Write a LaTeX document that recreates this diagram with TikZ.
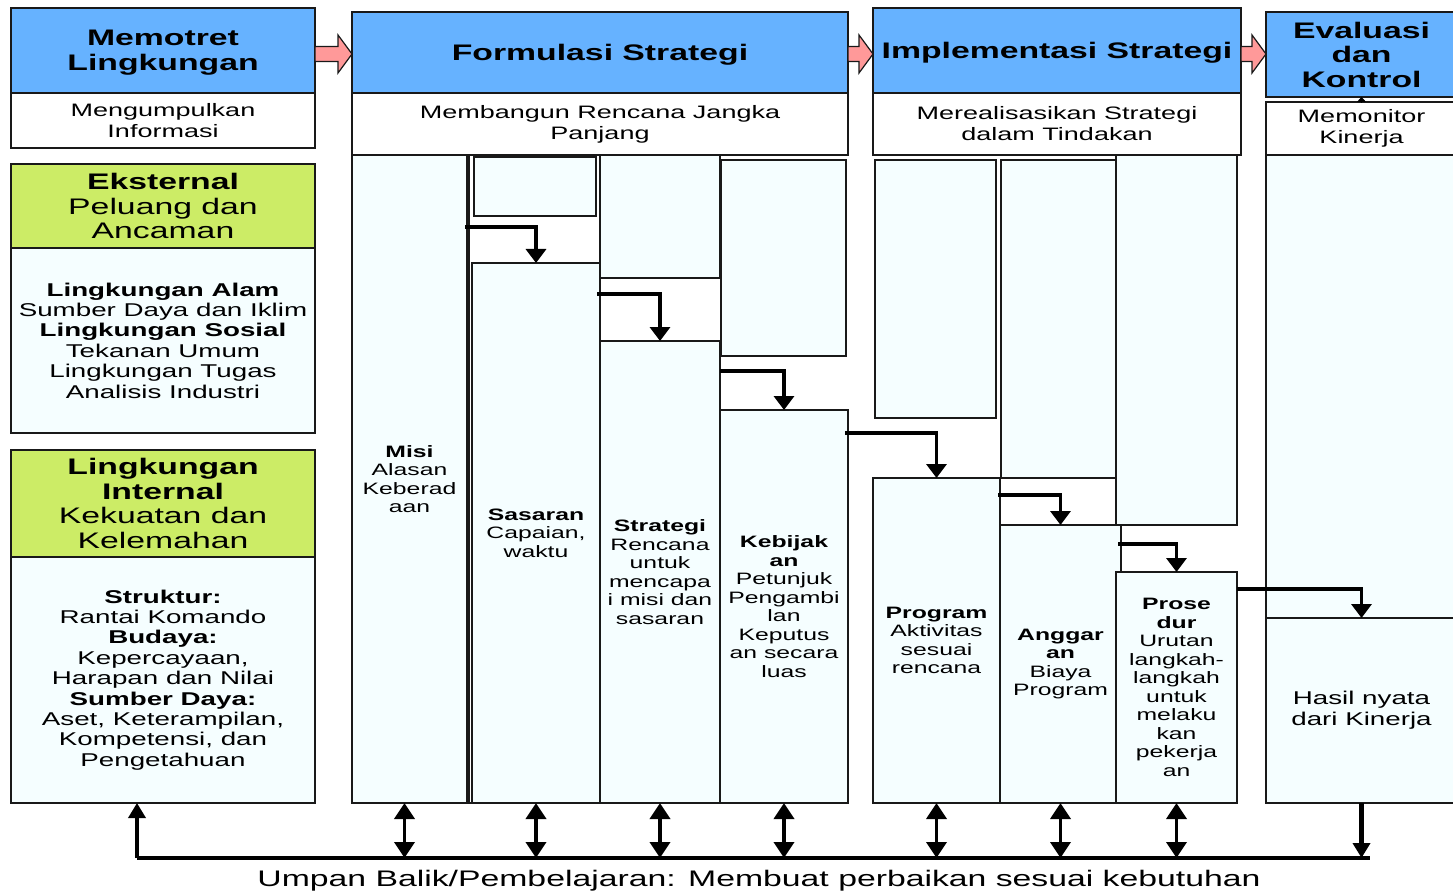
\documentclass[tikz,border=0pt]{standalone}
\usepackage{fontspec}
\setmainfont{Liberation Sans}[FakeStretch=1.5]
\usetikzlibrary{arrows.meta,calc}

\definecolor{hdrblue}{RGB}{102,178,255}
\definecolor{hdrgreen}{RGB}{204,236,102}
\definecolor{cellfill}{RGB}{245,254,255}
\definecolor{arrowpink}{RGB}{255,153,153}
\definecolor{edge}{RGB}{25,25,25}

% box given by its corners: name, x1, y1, x2, y2, style, text
\newcommand\cell[7]{%
  \node[#6, anchor=north west, minimum width={(#4)-(#2)}, minimum height={(#5)-(#3)}] (#1) at (#2,#3) {#7};}

% pink block arrow between two stage headers
\newcommand\stagearrow[2]{%
  \draw[pinkarrow] let \p1=(#1.east |- ay), \p2=(#2.west |- ay) in
    (\x1,{\y1+7.5pt}) -- ({\x2-14pt},{\y1+7.5pt}) -- ({\x2-14pt},{\y1+19pt}) -- (\x2,\y1)
    -- ({\x2-14pt},{\y1-19pt}) -- ({\x2-14pt},{\y1-7.5pt}) -- (\x1,{\y1-7.5pt}) -- cycle;}

\begin{document}
\begin{tikzpicture}[x=1pt,y=-1pt,
  base/.style={draw=edge, line width=1.6pt, inner sep=0pt, outer sep=0pt, align=center, text=black},
  bluehead/.style={base, fill=hdrblue, font=\bfseries\fontsize{22.5}{24.5}\selectfont, text depth=-4pt},
  greenhead/.style={base, fill=hdrgreen, font=\fontsize{22.5}{24.5}\selectfont},
  subbox/.style={base, fill=white, font=\fontsize{18}{21}\selectfont},
  envbody/.style={base, fill=cellfill, font=\fontsize{18.5}{20.4}\selectfont},
  colbox/.style={base, fill=cellfill, font=\fontsize{16.5}{18.5}\selectfont},
  framebox/.style={base, fill=white},
  conn/.style={line width=3.4pt, -{Triangle[width=20pt,length=14pt]}},
  twoway/.style={line width=3.6pt, {Triangle[width=20pt,length=16pt]}-{Triangle[width=20pt,length=16pt]}},
  fbline/.style={line width=3.5pt},
  fbarrow/.style={line width=3.5pt, -{Triangle[width=17pt,length=15pt]}},
  pinkarrow/.style={draw=edge, line width=1.2pt, fill=arrowpink, line join=miter}]

\clip (0,0) rectangle (1453,893);
\fill[white] (0,0) rectangle (1453,893);
\coordinate (ay) at (0,54);

% stage headers and their subtitles
\cell{memhead}{11}{8}{315}{93}{bluehead}{Memotret\\Lingkungan}
\cell{memsub}{11}{93}{315}{148}{subbox}{Mengumpulkan\\Informasi}
\cell{formhead}{352}{12}{848}{93}{bluehead}{Formulasi Strategi}
\cell{formsub}{352}{93}{848}{155}{subbox}{Membangun Rencana Jangka\\Panjang}
\cell{imphead}{873}{8}{1241}{93}{bluehead}{Implementasi Strategi}
\cell{impsub}{873}{93}{1241}{155}{subbox}{Merealisasikan Strategi\\dalam Tindakan}
\cell{evhead}{1266}{12}{1457}{97}{bluehead}{Evaluasi\\dan\\Kontrol}
\cell{evsub}{1266}{102}{1457}{155}{subbox}{Memonitor\\Kinerja}
\draw[line width=1pt, -{Triangle[width=9pt,length=5pt]}] (evsub.north) -- (evhead.south);

\stagearrow{memhead}{formhead}
\stagearrow{formhead}{imphead}
\stagearrow{imphead}{evhead}

% environmental scanning
\cell{exthead}{11}{164}{315}{248}{greenhead}{\textbf{Eksternal}\\Peluang dan\\Ancaman}
\cell{extbody}{11}{248}{315}{433}{envbody}{\textbf{Lingkungan Alam}\\Sumber Daya dan Iklim\\\textbf{Lingkungan Sosial}\\Tekanan Umum\\Lingkungan Tugas\\Analisis Industri}
\cell{inthead}{11}{450}{315}{557}{greenhead}{\textbf{Lingkungan}\\\textbf{Internal}\\Kekuatan dan\\Kelemahan}
\cell{intbody}{11}{557}{315}{803}{envbody}{\textbf{Struktur:}\\Rantai Komando\\\textbf{Budaya:}\\Kepercayaan,\\Harapan dan Nilai\\\textbf{Sumber Daya:}\\Aset, Keterampilan,\\Kompetensi, dan\\Pengetahuan}

% strategy formulation columns
\cell{misi}{352}{155}{467}{803}{colbox}{\textbf{Misi}\\Alasan\\Keberad\\aan}
\cell{sascol}{469}{155}{600}{803}{framebox}{}
\cell{sastop}{474}{157}{596}{216}{colbox}{}
\cell{sasaran}{472}{263}{600}{803}{colbox}{\textbf{Sasaran}\\Capaian,\\waktu}
\cell{strtop}{600}{155}{720}{278}{colbox}{}
\cell{strategi}{600}{341}{720}{803}{colbox}{\textbf{Strategi}\\Rencana\\untuk\\mencapa\\i misi dan\\sasaran}
\cell{kebtop}{721}{160}{846}{356}{colbox}{}
\cell{kebijakan}{720}{410}{848}{803}{colbox}{\textbf{Kebijak}\\\textbf{an}\\Petunjuk\\Pengambi\\lan\\Keputus\\an secara\\luas}

% strategy implementation columns
\cell{progtop}{875}{160}{996}{418}{colbox}{}
\cell{program}{873}{478}{1000}{803}{colbox}{\textbf{Program}\\Aktivitas\\sesuai\\rencana}
\cell{angtop}{1001}{160}{1121}{478}{colbox}{}
\cell{anggaran}{1000}{525}{1121}{803}{colbox}{\textbf{Anggar}\\\textbf{an}\\Biaya\\Program}
\cell{protop}{1116}{155}{1237}{525}{colbox}{}
\cell{prosedur}{1116}{572}{1237}{803}{colbox}{\textbf{Prose}\\\textbf{dur}\\Urutan\\langkah-\\langkah\\untuk\\melaku\\kan\\pekerja\\an}

% evaluation column
\cell{evtop}{1266}{155}{1457}{618}{colbox}{}
\cell{hasil}{1266}{618}{1457}{803}{colbox, font=\fontsize{18.5}{21}\selectfont}{Hasil nyata\\dari Kinerja}

% step-down connectors
\draw[conn] ($(misi.north east)+(-2,72)$) -| (sasaran.north);
\draw[conn] ($(sasaran.north east)+(-3,31)$) -| (strategi.north);
\draw[conn] ($(strategi.north east)+(0,30)$) -| (kebijakan.north);
\draw[conn] ($(kebijakan.north east)+(-3,23)$) -| (program.north);
\draw[conn] ($(program.north east)+(-2,17)$) -| (anggaran.north);
\draw[conn] ($(anggaran.north east)+(-3,19)$) -| (prosedur.north);
\draw[conn] ($(prosedur.north east)+(0,17)$) -| (hasil.north);

% feedback loop
\coordinate (fbL) at (137,858);
\coordinate (fbR) at (1370,858);
\draw[fbline] (fbL) -- (fbR);
\draw[fbarrow] (fbL) -- (fbL |- intbody.south);
\draw[fbarrow, line width=4.5pt] (hasil.south) -- (hasil.south |- fbL);
\draw[twoway] ($(misi.south)+(-5,0)$) -- ($(misi.south |- fbL)+(-5,0)$);
\foreach \n in {sasaran,strategi,kebijakan,program,anggaran,prosedur}
  \draw[twoway] (\n.south) -- (\n.south |- fbL);

\node[font=\fontsize{22.5}{24}\selectfont, text=black] (fbtext) at (759,881)
  {Umpan Balik/Pembelajaran: Membuat perbaikan sesuai kebutuhan};
\end{tikzpicture}
\end{document}
